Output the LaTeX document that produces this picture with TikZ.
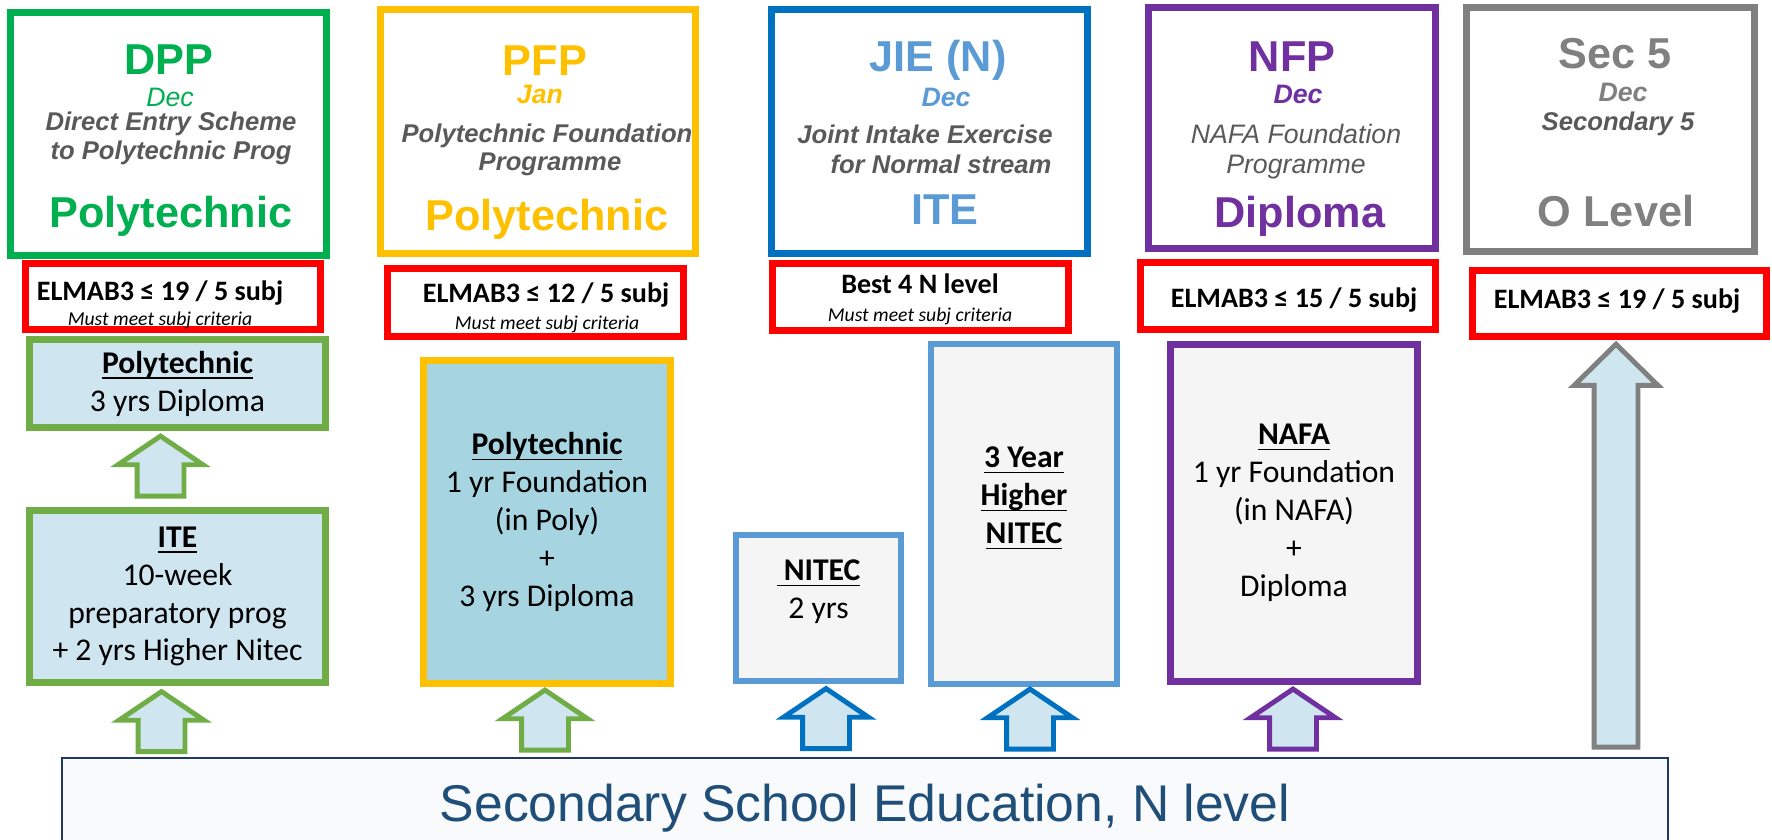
\documentclass[tikz,border=0pt]{standalone}
\usepackage{fontspec}
\setmainfont{Carlito}
\setsansfont{Liberation Sans}
\usetikzlibrary{shapes.arrows,calc}

\definecolor{dppgreen}{HTML}{00B050}
\definecolor{pfpyellow}{HTML}{FFC000}
\definecolor{jieblue}{HTML}{0070C0}
\definecolor{jietext}{HTML}{5B9BD5}
\definecolor{nfppurple}{HTML}{7030A0}
\definecolor{secgrey}{HTML}{808080}
\definecolor{subgrey}{HTML}{595959}
\definecolor{leafgreen}{HTML}{70AD47}
\definecolor{paleblue}{HTML}{CFE5F0}
\definecolor{polyblue}{HTML}{A6D5E1}
\definecolor{palegrey}{HTML}{F5F5F5}
\definecolor{navy}{HTML}{203864}
\definecolor{basefill}{HTML}{F8FAFC}
\definecolor{basetext}{HTML}{1F4E79}

\newcommand{\ulined}[1]{\underline{\raisebox{0pt}[\height][0pt]{#1}}}

\begin{document}
\begin{tikzpicture}[x=0.1mm,y=-0.1mm]
	\tikzstyle{scheme}=[draw,line width=2pt,inner sep=0pt]
	\tikzstyle{crit}=[draw=red,line width=2pt,inner sep=0pt]
	\tikzstyle{headtxt}=[anchor=base,font=\sffamily\bfseries\fontsize{12.3}{14}\selectfont]
	\tikzstyle{monthtxt}=[anchor=base,font=\sffamily\bfseries\itshape\fontsize{7.6}{9}\selectfont]
	\tikzstyle{desctxt}=[anchor=base,text=subgrey,font=\sffamily\bfseries\itshape\fontsize{7.3}{8.5}\selectfont]
	\tikzstyle{ruletxt}=[anchor=base,font=\bfseries\fontsize{8}{9.6}\selectfont]
	\tikzstyle{notetxt}=[anchor=base,font=\itshape\fontsize{5.6}{6.7}\selectfont]
	\tikzstyle{course}=[draw,line width=2pt,align=center,inner sep=0pt,font=\fontsize{9}{10.8}\selectfont]
	\tikzstyle{up}=[single arrow,rotate=90,line width=1.4pt,fill=paleblue,inner xsep=0pt,inner ysep=2.1mm,single arrow tip angle=112,single arrow head extend=1.9mm,minimum width=7.9mm,minimum height=6mm]
	\path[use as bounding box] (0,0) rectangle (1772,839);
	\clip (0,0) rectangle (1772,839);
	% schemes
	\node[scheme,draw=dppgreen,minimum width=31.6mm,minimum height=24.3mm] (dpp) at (168.5,134) {};
	\node[scheme,draw=pfpyellow,minimum width=31.5mm,minimum height=24.4mm] (pfp) at (538,131.5) {};
	\node[scheme,draw=jieblue,minimum width=31.6mm,minimum height=24.4mm] (jie) at (929.5,131.5) {};
	\node[scheme,draw=nfppurple,minimum width=28.7mm,minimum height=24.1mm] (nfp) at (1292,128) {};
	\node[scheme,draw=secgrey,minimum width=28.8mm,minimum height=24.4mm] (sec) at (1610.5,129.5) {};
	\node[headtxt,text=dppgreen] (dppname) at (169,74) {DPP};
	\node[anchor=base,text=dppgreen,font=\sffamily\itshape\fontsize{7.6}{9}\selectfont] (dppmonth) at (170,106) {Dec};
	\node[desctxt] (dppdesca) at (171,130) {Direct Entry Scheme};
	\node[desctxt] (dppdescb) at (171,159) {to Polytechnic Prog};
	\node[headtxt,text=dppgreen] (dppgoal) at (171,227) {Polytechnic};
	\node[headtxt,text=pfpyellow] (pfpname) at (545,75) {PFP};
	\node[monthtxt,text=pfpyellow] (pfpmonth) at (540,103) {Jan};
	\node[desctxt] (pfpdesca) at (547,142) {Polytechnic Foundation};
	\node[desctxt] (pfpdescb) at (550,170) {Programme};
	\node[headtxt,text=pfpyellow] (pfpgoal) at (547,230) {Polytechnic};
	\node[headtxt,text=jietext] (jiename) at (938,71) {JIE (N)};
	\node[monthtxt,text=jietext] (jiemonth) at (946,106) {Dec};
	\node[desctxt] (jiedesca) at (925,143) {Joint Intake Exercise};
	\node[desctxt] (jiedescb) at (941,173) {for Normal stream};
	\node[headtxt,text=jietext] (jiegoal) at (945,224) {ITE};
	\node[headtxt,text=nfppurple] (nfpname) at (1292,71) {NFP};
	\node[monthtxt,text=nfppurple] (nfpmonth) at (1298,103) {Dec};
	\node[desctxt,font=\sffamily\itshape\fontsize{7.6}{9}\selectfont] (nfpdesca) at (1296,143) {NAFA Foundation};
	\node[desctxt,font=\sffamily\itshape\fontsize{7.6}{9}\selectfont] (nfpdescb) at (1296,173) {Programme};
	\node[headtxt,text=nfppurple] (nfpgoal) at (1300,227) {Diploma};
	\node[headtxt,text=secgrey] (secname) at (1615,68) {Sec 5};
	\node[monthtxt,text=secgrey] (secmonth) at (1623,101) {Dec};
	\node[desctxt] (secdesca) at (1618,130) {Secondary 5};
	\node[headtxt,text=secgrey] (secgoal) at (1616,226) {O Level};
	% entry criteria
	\node[crit,minimum width=29.5mm,minimum height=6.6mm] (r1) at (173,296.5) {};
	\node[crit,minimum width=29.6mm,minimum height=6.8mm] (r2) at (535.5,302.5) {};
	\node[crit,minimum width=29.6mm,minimum height=6.7mm] (r3) at (920.5,297) {};
	\node[crit,minimum width=29.5mm,minimum height=6.7mm] (r4) at (1288,296) {};
	\node[crit,minimum width=29.4mm,minimum height=6.6mm] (r5) at (1619.5,303.5) {};
	\node[ruletxt] (r1txt) at (160,300) {ELMAB3 ≤ 19 / 5 subj};
	\node[notetxt] (r1note) at (160,325) {Must meet subj criteria};
	\node[ruletxt] (r2txt) at (546,302) {ELMAB3 ≤ 12 / 5 subj};
	\node[notetxt] (r2note) at (547,329) {Must meet subj criteria};
	\node[ruletxt] (r3txt) at (920,293) {Best 4 N level};
	\node[notetxt] (r3note) at (920,321) {Must meet subj criteria};
	\node[ruletxt] (r4txt) at (1294,307) {ELMAB3 ≤ 15 / 5 subj};
	\node[ruletxt] (r5txt) at (1617,308) {ELMAB3 ≤ 19 / 5 subj};
	% courses
	\node[course,draw=leafgreen,fill=paleblue,minimum width=29.6mm,minimum height=8.8mm] (poly3) at (177.5,383.5) {\ulined{\textbf{Polytechnic}}\\3 yrs Diploma};
	\node[course,draw=leafgreen,fill=paleblue,minimum width=29.6mm,minimum height=17.2mm] (ite) at (177.5,596.5) {\ulined{\textbf{ITE}}\\10-week\\preparatory prog\\+ 2 yrs Higher Nitec};
	\node[course,draw=pfpyellow,fill=polyblue,minimum width=24.7mm,minimum height=32.3mm] (poly1) at (547,522) {\ulined{\textbf{Polytechnic}}\\1 yr Foundation\\(in Poly)\\+\\3 yrs Diploma};
	\node[course,draw=jietext,line width=1.7pt,fill=palegrey,minimum width=16.5mm,minimum height=14.6mm] (nitec) at (818.5,608) {\ulined{\textbf{~NITEC}}\\2 yrs\\~};
	\node[course,draw=jietext,line width=1.7pt,fill=palegrey,minimum width=18.6mm,minimum height=34mm] (hnitec) at (1024,514) {\ulined{\textbf{3 Year}}\\\ulined{\textbf{Higher}}\\\ulined{\textbf{NITEC}}\\~};
	\node[course,draw=nfppurple,fill=palegrey,minimum width=24.7mm,minimum height=33.7mm] (nafa) at (1294,513) {\ulined{\textbf{NAFA}}\\1 yr Foundation\\(in NAFA)\\+\\Diploma};
	% base
	\node[draw=navy,line width=0.6pt,fill=basefill,minimum width=160.6mm,minimum height=11.2mm,inner sep=0pt] (base) at (865,814) {};
	\node[anchor=base,text=basetext,font=\sffamily\fontsize{14.7}{17}\selectfont] (basetxt) at (865,821) {Secondary School Education, N level};
	% arrows
	\node[up,draw=leafgreen] (a1) at ($(poly3.south)!0.5!(ite.north)+(-17,5)$) {};
	\node[up,draw=leafgreen] (a2) at ($(ite.south)!0.5!(ite.south |- base.north)+(-16,8)$) {};
	\node[up,draw=leafgreen] (a3) at ($(poly1.south)!0.5!(poly1.south |- base.north)+(-2,6)$) {};
	\node[up,draw=jieblue] (a4) at ($(nitec.south)!0.5!(nitec.south |- base.north)+(7.5,6)$) {};
	\node[up,draw=jieblue] (a5) at ($(hnitec.south)!0.5!(hnitec.south |- base.north)+(6,5)$) {};
	\node[up,draw=nfppurple] (a6) at ($(nafa.south)!0.5!(nafa.south |- base.north)+(-1,6)$) {};
	\node[up,draw=secgrey,inner ysep=1.95mm,single arrow tip angle=91,single arrow head extend=2mm,minimum width=7.9mm,minimum height=40.3mm] (a7) at ($(r5.south)!0.5!(r5.south |- base.north)+(-3.5,8)$) {};
\end{tikzpicture}
\end{document}
